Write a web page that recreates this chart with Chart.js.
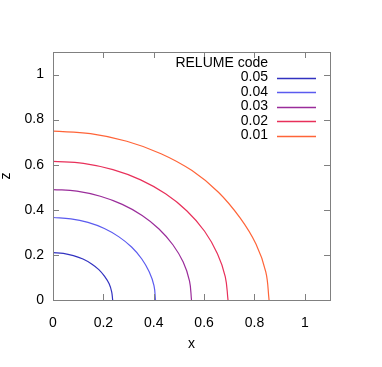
<!DOCTYPE html>
<html>
<head>
<meta charset="utf-8">
<script src="https://cdn.jsdelivr.net/npm/chart.js@4.4.1/dist/chart.umd.min.js"></script>
<style>
  html, body { margin: 0; padding: 0; background: #fff; overflow: hidden; }
  canvas { display: block; }
</style>
</head>
<body>
<canvas id="myChart" width="382" height="367"></canvas>
<script>
// series labels (legend order) and colours
const codes = ['0.05', '0.04', '0.03', '0.02', '0.01'];
const colors = ['#3232c0', '#5b5bef', '#9a2c9a', '#e8305a', '#ff6438'];

// x / z values
const x005 = [0, 0.041, 0.081, 0.119, 0.152, 0.182, 0.205, 0.223, 0.233, 0.237];
const z005 = [0.21, 0.207, 0.197, 0.182, 0.161, 0.135, 0.105, 0.072, 0.036, 0];
const x004 = [0, 0.071, 0.139, 0.204, 0.262, 0.312, 0.352, 0.382, 0.401, 0.407];
const z004 = [0.366, 0.360, 0.344, 0.317, 0.280, 0.235, 0.183, 0.125, 0.064, 0];
const x003 = [0, 0.095, 0.188, 0.275, 0.354, 0.421, 0.476, 0.517, 0.542, 0.55];
const z003 = [0.49, 0.483, 0.460, 0.424, 0.375, 0.315, 0.245, 0.168, 0.085, 0];
const x002 = [0, 0.121, 0.238, 0.348, 0.447, 0.532, 0.602, 0.653, 0.684, 0.695];
const z002 = [0.615, 0.606, 0.578, 0.533, 0.471, 0.395, 0.305, 0.205, 0.104, 0];
const x001 = [0, 0.149, 0.293, 0.429, 0.552, 0.657, 0.743, 0.806, 0.845, 0.858];
const z001 = [0.749, 0.738, 0.704, 0.649, 0.574, 0.478, 0.364, 0.248, 0.125, 0];

// axis ticks
const xTicks = [0, 0.2, 0.4, 0.6, 0.8, 1];
const yTicks = [0, 0.2, 0.4, 0.6, 0.8, 1];
const xTickLabels = ['0', '0.2', '0.4', '0.6', '0.8', '1'];
const yTickLabels = ['0', '0.2', '0.4', '0.6', '0.8', '1'];

const xs = [x005, x004, x003, x002, x001];
const zs = [z005, z004, z003, z002, z001];

const FONT = '"Liberation Sans", Arial, sans-serif';
const GRAY = '#808080';

const datasets = codes.map((c, i) => ({
    label: c,
    data: xs[i].map((x, j) => ({ x: x, y: zs[i][j] })),
    borderColor: colors[i],
    borderWidth: 1.2,
    showLine: true,
    pointRadius: 0,
    tension: 0.4,
    fill: false
}));

// gnuplot-like frame, inward ticks, axis labels and key
const frame = {
    id: 'frame',
    afterDatasetsDraw(chart) {
        const ctx = chart.ctx;
        const a = chart.chartArea;
        const sx = chart.scales.x, sy = chart.scales.y;
        ctx.save();
        ctx.strokeStyle = GRAY;
        ctx.lineWidth = 1;
        ctx.strokeRect(Math.round(a.left) + 0.5, Math.round(a.top) + 0.5,
            Math.round(a.right - a.left), Math.round(a.bottom - a.top));
        const tl = 6;
        ctx.beginPath();
        xTicks.forEach(v => {
            const px = Math.round(sx.getPixelForValue(v)) + 0.5;
            ctx.moveTo(px, a.bottom); ctx.lineTo(px, a.bottom - tl);
            ctx.moveTo(px, a.top); ctx.lineTo(px, a.top + tl);
        });
        yTicks.forEach(v => {
            const py = Math.round(sy.getPixelForValue(v)) + 0.5;
            ctx.moveTo(a.left, py); ctx.lineTo(a.left + tl, py);
            ctx.moveTo(a.right, py); ctx.lineTo(a.right - tl, py);
        });
        ctx.stroke();

        // axis titles
        ctx.fillStyle = '#000';
        ctx.font = '14px ' + FONT;
        ctx.textAlign = 'center';
        ctx.textBaseline = 'middle';
        ctx.fillText('x', (a.left + a.right) / 2, 344);
        ctx.save();
        ctx.translate(6, (a.top + a.bottom) / 2);
        ctx.rotate(-Math.PI / 2);
        ctx.fillText('z', 0, 0);
        ctx.restore();

        // key
        ctx.textAlign = 'right';
        ctx.fillText('RELUME code', 268, 63);
        codes.forEach((c, i) => {
            const y = 77.5 + i * 14.5;
            ctx.fillStyle = '#000';
            ctx.fillText(c, 268, y);
            ctx.strokeStyle = colors[i];
            ctx.lineWidth = 1.3;
            ctx.beginPath();
            ctx.moveTo(277, Math.round(y) + 0.5);
            ctx.lineTo(316, Math.round(y) + 0.5);
            ctx.stroke();
        });
        ctx.restore();
    }
};

const ctx = document.getElementById('myChart').getContext('2d');
const myChart = new Chart(ctx, {
    type: 'scatter',
    data: { datasets: datasets },
    options: {
        responsive: false,
        animation: false,
        layout: { padding: { left: 0, top: 52, right: 52, bottom: 0 } },
        plugins: { legend: { display: false }, tooltip: { enabled: false } },
        scales: {
            x: {
                type: 'linear',
                min: 0,
                max: 1.1,
                afterBuildTicks: s => { s.ticks = xTicks.map(v => ({ value: v })); },
                afterFit: s => { s.height = 67; },
                grid: { display: false, drawTicks: false },
                border: { display: false },
                ticks: {
                    color: '#000',
                    font: { family: FONT, size: 14 },
                    padding: 15,
                    maxRotation: 0,
                    callback: (v, i) => xTickLabels[i]
                }
            },
            y: {
                type: 'linear',
                min: 0,
                max: 1.1,
                afterBuildTicks: s => { s.ticks = yTicks.map(v => ({ value: v })); },
                afterFit: s => { s.width = 53; },
                grid: { display: false, drawTicks: false },
                border: { display: false },
                ticks: {
                    color: '#000',
                    font: { family: FONT, size: 14 },
                    padding: 9,
                    callback: (v, i) => yTickLabels[i]
                }
            }
        }
    },
    plugins: [frame]
});
</script>
</body>
</html>
